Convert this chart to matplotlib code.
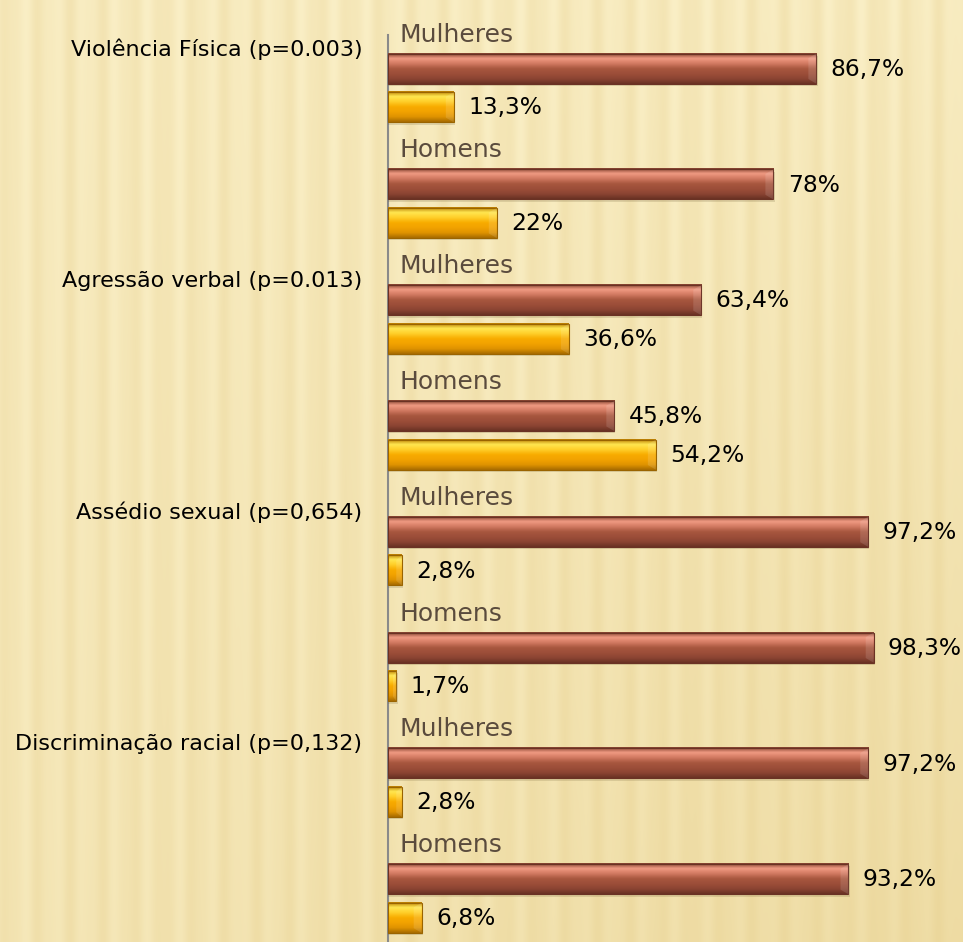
import numpy as np
import matplotlib
matplotlib.use("Agg")
import matplotlib.pyplot as plt
from matplotlib.colors import LinearSegmentedColormap, to_rgb

# Data (percent)
categories = ["Violência Física (p=0.003)", "Agressão verbal (p=0.013)",
              "Assédio sexual (p=0,654)", "Discriminação racial (p=0,132)"]
groups = ["Mulheres", "Homens"]
brown_values = [86.7, 78, 63.4, 45.8, 97.2, 98.3, 97.2, 93.2]
orange_values = [13.3, 22, 36.6, 54.2, 2.8, 1.7, 2.8, 6.8]
brown_labels = ["86,7%", "78%", "63,4%", "45,8%", "97,2%", "98,3%", "97,2%", "93,2%"]
orange_labels = ["13,3%", "22%", "36,6%", "54,2%", "2,8%", "1,7%", "2,8%", "6,8%"]

W, H = 963, 942
fig = plt.figure(figsize=(W / 100, H / 100), dpi=100)
ax = fig.add_axes([0, 0, 1, 1])

# axis mapping: x=0 at pixel 388, 4.94 px per percent; row 0 at 30 px, 38.6 px per row
px_per_pct = 4.94
x0 = 388
row_h = 38.6
y0 = 30
xmin, xmax = -x0 / px_per_pct, (W - x0) / px_per_pct
ymin, ymax = -y0 / row_h, (H - y0) / row_h
ax.set_xlim(xmin, xmax)
ax.set_ylim(ymax, ymin)
ax.axis("off")

# background: beige with soft vertical stripes, a bit deeper towards the bottom right
cols = np.arange(W)
rows = np.linspace(0, 1, 120)[:, None]
stripes = 0.5 + 0.35 * np.sin(2 * np.pi * cols / 31.0) + 0.15 * np.sin(2 * np.pi * cols / 17.0 + 1.0)
stripes = stripes[None, :]
light = np.array(to_rgb("#faefc6"))
dark = np.array(to_rgb("#ecd89e"))
deep = np.array(to_rgb("#e2c880"))
mix = (0.5 * stripes)[..., None]
bg = light * (1 - mix) + dark * mix
corner = np.clip(rows * (0.35 + 0.65 * cols[None, :] / W), 0, 1)[..., None] * 0.45
bg = bg * (1 - corner) + deep * corner
ax.imshow(bg, extent=[xmin, xmax, ymax, ymin], aspect="auto", zorder=0, interpolation="bilinear")

brown_cmap = LinearSegmentedColormap.from_list(
    "brown", ["#7e3f2c", "#f09a82", "#d27a62", "#a8573f", "#9c4e39", "#8c4533", "#6a3224"])
orange_cmap = LinearSegmentedColormap.from_list(
    "orange", ["#b87a00", "#ffe650", "#ffcf2a", "#f8ac00", "#f2a200", "#e09400", "#a86c00"])
grad = np.linspace(0, 1, 64)[:, None]

bar_h = 0.78


def draw_bar(val, ypos, cmap, edge, label):
    # shadow
    ax.add_patch(plt.Rectangle((0, ypos - bar_h / 2 + 0.06), val + 0.25, bar_h,
                               facecolor="#6b5a30", alpha=0.18, lw=0, zorder=2))
    ax.imshow(grad, cmap=cmap, extent=[0, val, ypos + bar_h / 2, ypos - bar_h / 2],
              aspect="auto", zorder=3, interpolation="bilinear")
    ax.add_patch(plt.Rectangle((0, ypos - bar_h / 2), val, bar_h, facecolor="none",
                               edgecolor=edge, lw=0.8, zorder=4))
    # bevel at right end
    bev = min(1.6, val * 0.4)
    ax.add_patch(plt.Polygon([(val - bev, ypos - bar_h / 2 + 0.12), (val, ypos - bar_h / 2),
                              (val, ypos + bar_h / 2), (val - bev, ypos + bar_h / 2 - 0.12)],
                             closed=True, facecolor="white", alpha=0.12, lw=0, zorder=4))
    ax.text(val + 2.9, ypos + 0.02, label, fontsize=16.8, color="black", va="center", ha="left", zorder=5)


for i in range(len(brown_values)):
    base = 3 * i
    ax.text(2.4, base + 0.12, groups[i % 2], fontsize=18, color="#5a4b3d", va="center", ha="left", zorder=5)
    draw_bar(brown_values[i], base + 1, brown_cmap, "#6a3224", brown_labels[i])
    draw_bar(orange_values[i], base + 2, orange_cmap, "#9a6400", orange_labels[i])

for j, cat in enumerate(categories):
    ax.text(-5.2, 6 * j + 0.5, cat, fontsize=16, color="black", va="center", ha="right", zorder=5)

# vertical axis line
ax.plot([0, 0], [0.13, ymax], color="#8a8a8a", lw=1.5, zorder=1.5)

fig.savefig("out.png", dpi=100)
